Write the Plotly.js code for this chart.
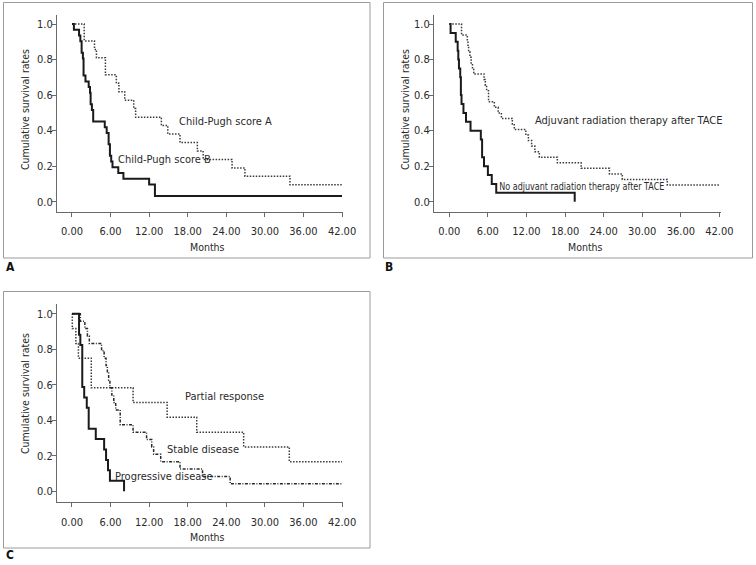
<!DOCTYPE html>
<html>
<head>
<meta charset="utf-8">
<script src="https://cdn.plot.ly/plotly-3.0.1.min.js"></script>
<style>html,body{margin:0;padding:0;background:#fff;}#chart{width:756px;height:565px;}</style>
</head>
<body>
<div id="chart"></div>
<script>
// ---- data (months, cumulative survival) ----
const xTicks = [0, 6, 12, 18, 24, 30, 36, 42];
const yTicks = [0, 0.2, 0.4, 0.6, 0.8, 1.0];

// Panel A
const childA_t = [0, 1.9, 3.5, 3.8, 5.2, 6.9, 7.3, 8.2, 9.6, 9.9, 13.9, 14.9, 16.8, 19.5, 20.4, 24.9, 26.9, 33.9, 42];
const childA_s = [1.0, 0.905, 0.857, 0.810, 0.714, 0.667, 0.619, 0.571, 0.524, 0.476, 0.429, 0.381, 0.333, 0.286, 0.238, 0.190, 0.143, 0.095, 0.095];
const childB_t = [0, 0.3, 1.1, 1.3, 1.5, 1.7, 1.8, 2.1, 2.6, 2.8, 2.9, 3.1, 3.3, 5.1, 5.4, 5.7, 5.9, 6.1, 6.3, 7.2, 8.0, 12.0, 12.9, 42];
const childB_s = [1.0, 0.968, 0.935, 0.903, 0.839, 0.806, 0.710, 0.677, 0.645, 0.613, 0.548, 0.516, 0.452, 0.419, 0.387, 0.323, 0.258, 0.226, 0.194, 0.161, 0.129, 0.097, 0.032, 0.032];

// Panel B
const adj_t = [0, 1.9, 2.8, 2.9, 3.0, 3.2, 3.4, 3.6, 3.8, 5.4, 5.6, 5.8, 6.1, 7.0, 7.6, 8.1, 9.8, 10.1, 11.9, 12.3, 12.8, 13.3, 14.0, 14.8, 16.8, 20.5, 24.9, 26.9, 33.9, 42];
const adj_s = [1.0, 0.938, 0.906, 0.875, 0.844, 0.813, 0.781, 0.750, 0.719, 0.688, 0.656, 0.625, 0.563, 0.531, 0.500, 0.469, 0.438, 0.406, 0.375, 0.344, 0.313, 0.281, 0.250, 0.250, 0.219, 0.188, 0.156, 0.125, 0.094, 0.094];
const noAdj_t = [0, 0.2, 1.0, 1.3, 1.4, 1.5, 1.7, 1.8, 1.9, 2.2, 2.6, 3.3, 4.9, 5.1, 5.4, 6.0, 6.6, 7.3, 19.5];
const noAdj_s = [1.0, 0.95, 0.90, 0.85, 0.80, 0.75, 0.70, 0.60, 0.55, 0.50, 0.45, 0.40, 0.35, 0.25, 0.20, 0.15, 0.10, 0.05, 0.0];

// Panel C
const partial_t = [0, 0.05, 0.6, 1.0, 3.0, 9.5, 14.8, 19.4, 26.7, 33.8, 42];
const partial_s = [1.0, 0.917, 0.833, 0.750, 0.583, 0.500, 0.417, 0.333, 0.250, 0.167, 0.167];
const stable_t = [0, 1.3, 2.0, 2.4, 2.7, 4.6, 5.0, 5.3, 5.5, 5.7, 5.9, 6.2, 6.5, 6.8, 7.5, 9.5, 11.6, 12.4, 12.7, 13.8, 16.8, 20.3, 24.6, 42];
const stable_s = [1.0, 0.958, 0.917, 0.875, 0.833, 0.792, 0.750, 0.708, 0.667, 0.625, 0.583, 0.542, 0.500, 0.458, 0.375, 0.333, 0.292, 0.250, 0.208, 0.167, 0.125, 0.083, 0.042, 0.042];
const prog_t = [0, 1.1, 1.3, 1.6, 1.9, 2.3, 2.6, 3.7, 5.0, 5.3, 5.6, 5.9, 8.1];
const prog_s = [1.0, 0.882, 0.824, 0.588, 0.529, 0.471, 0.353, 0.294, 0.235, 0.176, 0.118, 0.059, 0.0];

// ---- styling / layout ----
const W = 756, H = 565;
const FONT = "'DejaVu Sans Condensed', 'DejaVu Sans', sans-serif";
const TXT = '#2a2a2a';
const px = v => v / W;
const py = v => 1 - v / H;

const solid = {color: '#1a1a1a', width: 2, shape: 'hv'};
const dotted = {color: '#3a3a3a', width: 1.5, shape: 'hv', dash: '1.5px,1.5px'};
const dashdot = {color: '#2a2a2a', width: 1.5, shape: 'hv', dash: '3px,1.5px,1px,1.5px'};

function tr(x, y, line, xa, ya, name) {
  return {x: x, y: y, type: 'scatter', mode: 'lines', line: line, xaxis: xa, yaxis: ya, name: name, hoverinfo: 'skip'};
}

const data = [
  tr(childA_t, childA_s, dotted, 'x', 'y', 'Child-Pugh score A'),
  tr(childB_t, childB_s, solid, 'x', 'y', 'Child-Pugh score B'),
  tr(adj_t, adj_s, dotted, 'x2', 'y2', 'Adjuvant radiation therapy after TACE'),
  tr(noAdj_t, noAdj_s, solid, 'x2', 'y2', 'No adjuvant radiation therapy after TACE'),
  tr(partial_t, partial_s, dotted, 'x3', 'y3', 'Partial response'),
  tr(stable_t, stable_s, dashdot, 'x3', 'y3', 'Stable disease'),
  tr(prog_t, prog_s, solid, 'x3', 'y3', 'Progressive disease')
];

function xax(d, anchor) {
  return {domain: d, anchor: anchor, range: [-2.33, 42.15], tickvals: xTicks, tickformat: '.2f',
    showline: true, linecolor: '#6a6a6a', linewidth: 1, ticks: 'outside', ticklen: 4, tickcolor: '#6a6a6a',
    ticklabelstandoff: 5,
    showgrid: false, zeroline: false, tickfont: {family: FONT, size: 11, color: TXT}};
}
function yax(d, anchor, r) {
  return {domain: d, anchor: anchor, range: r, tickvals: yTicks, tickformat: '.1f',
    showline: true, linecolor: '#6a6a6a', linewidth: 1, ticks: 'outside', ticklen: 4, tickcolor: '#6a6a6a',
    ticklabelstandoff: -3,
    showgrid: false, zeroline: false, tickfont: {family: FONT, size: 11, color: TXT}};
}

function note(text, x, y, xa, ya, opts) {
  return Object.assign({text: text, x: x, y: y, xref: xa, yref: ya, showarrow: false,
    xanchor: 'left', yanchor: 'middle', font: {family: FONT, size: 11, color: TXT}}, opts || {});
}
function pnote(text, x, y, opts) {
  return Object.assign({text: text, x: px(x), y: py(y), xref: 'paper', yref: 'paper', showarrow: false,
    xanchor: 'center', yanchor: 'middle', font: {family: FONT, size: 10.5, color: TXT}}, opts || {});
}

const NOADJ = 'No adjuvant radiation therapy after TACE';
const annotations = [
  note('Child-Pugh score A', 16.3, 0.45, 'x', 'y'),
  note('Child-Pugh score B', 6.84, 0.235, 'x', 'y'),
  note('Adjuvant radiation therapy after TACE', 12.97, 0.456, 'x2', 'y2'),
  note(NOADJ, 20.7, 0.088, 'x2', 'y2', {xanchor: 'center'}),
  note('Partial response', 17.2, 0.533, 'x3', 'y3'),
  note('Stable disease', 14.46, 0.233, 'x3', 'y3'),
  note('Progressive disease', 6.33, 0.082, 'x3', 'y3'),
  pnote('Months', 207, 247),
  pnote('Months', 585, 247),
  pnote('Months', 207, 537),
  pnote('Cumulative survival rates', 25, 110, {textangle: -90}),
  pnote('Cumulative survival rates', 405, 110, {textangle: -90}),
  pnote('Cumulative survival rates', 25, 394, {textangle: -90}),
  pnote('<b>A</b>', 4, 267, {xanchor: 'left', font: {family: FONT, size: 12, color: '#111'}}),
  pnote('<b>B</b>', 383, 267, {xanchor: 'left', font: {family: FONT, size: 12, color: '#111'}}),
  pnote('<b>C</b>', 4, 555, {xanchor: 'left', font: {family: FONT, size: 12, color: '#111'}})
];

function box(l, t, r, b) {
  return {type: 'rect', xref: 'paper', yref: 'paper', x0: px(l), x1: px(r), y0: py(b), y1: py(t),
    line: {color: '#9a9a9a', width: 1}, fillcolor: 'rgba(0,0,0,0)', layer: 'below'};
}

const layout = {
  width: W, height: H, margin: {l: 0, r: 0, t: 0, b: 0},
  paper_bgcolor: '#fff', plot_bgcolor: 'rgba(0,0,0,0)', showlegend: false,
  font: {family: FONT, size: 11, color: TXT},
  xaxis: xax([px(57), px(343)], 'y'),
  yaxis: yax([py(212), py(15)], 'x', [-0.058, 1.051]),
  xaxis2: xax([px(434), px(720.7)], 'y2'),
  yaxis2: yax([py(212), py(15)], 'x2', [-0.058, 1.051]),
  xaxis3: xax([px(57), px(343)], 'y3'),
  yaxis3: yax([py(502.3), py(304)], 'x3', [-0.062, 1.055]),
  annotations: annotations,
  shapes: [box(3.5, 2.5, 370, 258), box(383.5, 2.5, 752.5, 258), box(3.5, 291.5, 370, 548)]
};
layout.xaxis2.range = [-2.38, 42.2];

Plotly.newPlot('chart', data, layout, {staticPlot: true, displayModeBar: false}).then(function () {
  // the reference sets this one label in a compressed face: squeeze it to its width
  document.querySelectorAll('.annotation-text').forEach(function (t) {
    if (t.textContent === NOADJ) {
      t.setAttribute('textLength', '165');
      t.setAttribute('lengthAdjust', 'spacingAndGlyphs');
    }
  });
});
</script>
</body>
</html>
